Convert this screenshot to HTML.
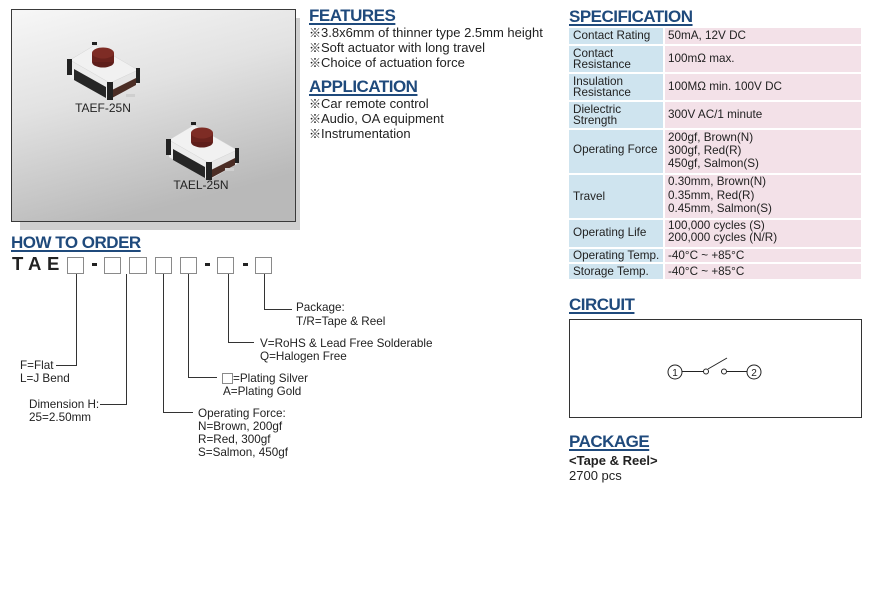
<!DOCTYPE html>
<html><head><meta charset="utf-8">
<style>
*{margin:0;padding:0;box-sizing:border-box}
body{width:870px;height:607px;background:#fff;position:relative;overflow:hidden;font-family:"Liberation Sans","Noto Sans CJK JP",Arial,sans-serif;color:#222}
.a{position:absolute;white-space:nowrap}
.h{position:absolute;white-space:nowrap;font-weight:bold;font-size:17px;letter-spacing:-0.5px;color:#1f4a7c;text-decoration:underline;text-decoration-thickness:1.5px;text-underline-offset:2px;line-height:20px}
.t{font-size:13px;line-height:15px}
.s{font-size:11.7px;line-height:12px}
.s2{font-size:11.7px;line-height:11px}
.o{font-size:11.7px;line-height:13px;color:#222}
.c{position:absolute;background:#cfe4ef}
.v{position:absolute;background:#f3e1e8}
.k{font-family:"Noto Sans CJK JP",sans-serif;font-size:12px}
</style></head><body>

<svg class="a" style="left:0;top:0" width="870" height="607" viewBox="0 0 870 607">
<defs>
<linearGradient id="bg" x1="0" y1="0" x2="0.35" y2="1">
<stop offset="0" stop-color="#f7f7f7"/>
<stop offset="0.45" stop-color="#e2e2e2"/>
<stop offset="1" stop-color="#b9b9b9"/>
</linearGradient>
</defs>
<rect x="20" y="18" width="280" height="212" fill="#cfcfcf"/>
<rect x="11.5" y="9.5" width="284" height="212" fill="url(#bg)" stroke="#3a3a3a" stroke-width="1"/>

<g id="sw1">
<polygon points="70,60 110,83 110,100 70,77" fill="#ececec"/>
<polygon points="74,69 106,87 106,98 74,80" fill="#262626"/>
<polygon points="110,83 138,70 138,84 110,100" fill="#e6e6e6"/>
<polygon points="112,90 136,78 136,85 112,98" fill="#4b2d25"/>
<polygon points="70,60 95,45 138,70 110,83" fill="#f1f1f1" stroke="#d4d4d4" stroke-width="0.5"/>
<rect x="92" y="42" width="5" height="3" fill="#222"/>
<rect x="67" y="59" width="5" height="16" fill="#222"/>
<rect x="136" y="68" width="4" height="15" fill="#222"/>
<rect x="107" y="82" width="6" height="18" fill="#222"/>
<rect x="126" y="94" width="9" height="3" fill="#cfcfcf"/>
<ellipse cx="103" cy="62" rx="11" ry="5.5" fill="#5e1e1a"/>
<rect x="92" y="53" width="22" height="9" fill="#6a221d"/>
<ellipse cx="103" cy="53" rx="11" ry="5.5" fill="#7e2c25"/>
</g>
<g transform="translate(99,80)">
<polygon points="70,60 110,83 110,100 70,77" fill="#ececec"/>
<polygon points="74,69 106,87 106,98 74,80" fill="#262626"/>
<polygon points="110,83 138,70 138,84 110,100" fill="#e6e6e6"/>
<polygon points="112,90 136,78 136,85 112,98" fill="#4b2d25"/>
<polygon points="70,60 95,45 138,70 110,83" fill="#f1f1f1" stroke="#d4d4d4" stroke-width="0.5"/>
<rect x="92" y="42" width="5" height="3" fill="#222"/>
<rect x="67" y="59" width="5" height="16" fill="#222"/>
<rect x="136" y="68" width="4" height="15" fill="#222"/>
<rect x="107" y="82" width="6" height="18" fill="#222"/>
<rect x="126" y="88" width="9" height="3" fill="#cfcfcf"/>
<ellipse cx="103" cy="62" rx="11" ry="5.5" fill="#5e1e1a"/>
<rect x="92" y="53" width="22" height="9" fill="#6a221d"/>
<ellipse cx="103" cy="53" rx="11" ry="5.5" fill="#7e2c25"/>
</g>
<text x="103" y="112" font-size="12" text-anchor="middle" fill="#222" font-family="Liberation Sans, sans-serif">TAEF-25N</text>
<text x="201" y="189" font-size="12" text-anchor="middle" fill="#222" font-family="Liberation Sans, sans-serif">TAEL-25N</text>

<!-- order boxes -->
<g fill="#fff" stroke="#8a8a8a" stroke-width="1">
<rect x="67.5" y="257.5" width="16" height="16"/>
<rect x="104.5" y="257.5" width="16" height="16"/>
<rect x="129.5" y="257.5" width="17" height="16"/>
<rect x="155.5" y="257.5" width="16" height="16"/>
<rect x="180.5" y="257.5" width="16" height="16"/>
<rect x="217.5" y="257.5" width="16" height="16"/>
<rect x="255.5" y="257.5" width="16" height="16"/>
<rect x="222.5" y="373.5" width="10" height="10"/>
</g>
<g fill="#222">
<rect x="92" y="263" width="5" height="3"/>
<rect x="205" y="263" width="5" height="3"/>
<rect x="243" y="263" width="5" height="3"/>
</g>
<g fill="none" stroke="#333" stroke-width="1">
<polyline points="76.5,274 76.5,365.5 56,365.5"/>
<polyline points="126.5,274 126.5,404.5 100,404.5"/>
<polyline points="163.5,274 163.5,412.5 193,412.5"/>
<polyline points="188.5,274 188.5,377.5 217,377.5"/>
<polyline points="228.5,274 228.5,342.5 254,342.5"/>
<polyline points="264.5,274 264.5,309.5 292,309.5"/>
</g>

<!-- circuit -->
<rect x="569.5" y="319.5" width="292" height="98" fill="#fff" stroke="#333" stroke-width="1"/>
<g fill="none" stroke="#222" stroke-width="1">
<circle cx="675" cy="372" r="7"/>
<circle cx="754" cy="372" r="7"/>
<line x1="682" y1="371.5" x2="703.5" y2="371.5"/>
<circle cx="706" cy="371.5" r="2.5"/>
<circle cx="724" cy="371.5" r="2.5"/>
<line x1="727" y1="371.5" x2="747" y2="371.5"/>
<line x1="708" y1="369" x2="727" y2="358"/>
</g>
<text x="675" y="376" font-size="10" text-anchor="middle" fill="#222" font-family="Liberation Sans, sans-serif">1</text>
<text x="754" y="376" font-size="10" text-anchor="middle" fill="#222" font-family="Liberation Sans, sans-serif">2</text>
</svg>

<!-- FEATURES -->
<div class="h" style="left:309px;top:6px">FEATURES</div>
<div class="a t" style="left:309px;top:25px"><span class="k">※</span>3.8x6mm of thinner type 2.5mm height<br><span class="k">※</span>Soft actuator with long travel<br><span class="k">※</span>Choice of actuation force</div>
<div class="h" style="left:309px;top:77px">APPLICATION</div>
<div class="a t" style="left:309px;top:96px"><span class="k">※</span>Car remote control<br><span class="k">※</span>Audio, OA equipment<br><span class="k">※</span>Instrumentation</div>

<!-- SPECIFICATION -->
<div class="h" style="left:569px;top:7px">SPECIFICATION</div>
<div class="c" style="left:569px;top:28px;width:94px;height:16px"></div><div class="v" style="left:665px;top:28px;width:196px;height:16px"></div>
<div class="c" style="left:569px;top:46px;width:94px;height:26px"></div><div class="v" style="left:665px;top:46px;width:196px;height:26px"></div>
<div class="c" style="left:569px;top:74px;width:94px;height:26px"></div><div class="v" style="left:665px;top:74px;width:196px;height:26px"></div>
<div class="c" style="left:569px;top:102px;width:94px;height:26px"></div><div class="v" style="left:665px;top:102px;width:196px;height:26px"></div>
<div class="c" style="left:569px;top:130px;width:94px;height:43px"></div><div class="v" style="left:665px;top:130px;width:196px;height:43px"></div>
<div class="c" style="left:569px;top:175px;width:94px;height:43px"></div><div class="v" style="left:665px;top:175px;width:196px;height:43px"></div>
<div class="c" style="left:569px;top:220px;width:94px;height:27px"></div><div class="v" style="left:665px;top:220px;width:196px;height:27px"></div>
<div class="c" style="left:569px;top:249px;width:94px;height:13px"></div><div class="v" style="left:665px;top:249px;width:196px;height:13px"></div>
<div class="c" style="left:569px;top:264px;width:94px;height:15px"></div><div class="v" style="left:665px;top:264px;width:196px;height:15px"></div>

<div class="a s" style="left:573px;top:30px">Contact Rating</div>
<div class="a s" style="left:668px;top:30px">50mA, 12V DC</div>
<div class="a s2" style="left:573px;top:47.5px">Contact<br>Resistance</div>
<div class="a s" style="left:668px;top:53px">100mΩ max.</div>
<div class="a s2" style="left:573px;top:75.5px">Insulation<br>Resistance</div>
<div class="a s" style="left:668px;top:81px">100MΩ min. 100V DC</div>
<div class="a s2" style="left:573px;top:103.5px">Dielectric<br>Strength</div>
<div class="a s" style="left:668px;top:109px">300V AC/1 minute</div>
<div class="a s" style="left:573px;top:144px">Operating Force</div>
<div class="a s" style="left:668px;top:130.5px;line-height:13px">200gf, Brown(N)<br>300gf, Red(R)<br>450gf, Salmon(S)</div>
<div class="a s" style="left:573px;top:191px">Travel</div>
<div class="a s" style="left:668px;top:175px;line-height:13.5px">0.30mm, Brown(N)<br>0.35mm, Red(R)<br>0.45mm, Salmon(S)</div>
<div class="a s" style="left:573px;top:227px">Operating Life</div>
<div class="a s" style="left:668px;top:220px">100,000 cycles (S)<br>200,000 cycles (N/R)</div>
<div class="a s" style="left:573px;top:250px">Operating Temp.</div>
<div class="a s" style="left:668px;top:250px">-40°C ~ +85°C</div>
<div class="a s" style="left:573px;top:266px">Storage Temp.</div>
<div class="a s" style="left:668px;top:266px">-40°C ~ +85°C</div>

<!-- HOW TO ORDER -->
<div class="h" style="left:11px;top:233px">HOW TO ORDER</div>
<div class="a" style="left:12px;top:253px;font-size:18.5px;font-weight:bold;line-height:22px;color:#222">T</div>
<div class="a" style="left:28px;top:253px;font-size:18.5px;font-weight:bold;line-height:22px;color:#222">A</div>
<div class="a" style="left:47px;top:253px;font-size:18.5px;font-weight:bold;line-height:22px;color:#222">E</div>

<div class="a o" style="left:296px;top:301px;line-height:13.5px">Package:<br>T/R=Tape &amp; Reel</div>
<div class="a o" style="left:260px;top:336.5px">V=RoHS &amp; Lead Free Solderable<br>Q=Halogen Free</div>
<div class="a o" style="left:233px;top:371.5px">=Plating Silver</div>
<div class="a o" style="left:223px;top:384.5px">A=Plating Gold</div>
<div class="a o" style="left:198px;top:406.5px">Operating Force:<br>N=Brown, 200gf<br>R=Red, 300gf<br>S=Salmon, 450gf</div>
<div class="a o" style="left:29px;top:397.5px">Dimension H:<br>25=2.50mm</div>
<div class="a o" style="left:20px;top:358.5px">F=Flat<br>L=J Bend</div>

<!-- CIRCUIT / PACKAGE -->
<div class="h" style="left:569px;top:295px">CIRCUIT</div>
<div class="h" style="left:569px;top:432px">PACKAGE</div>
<div class="a" style="left:569px;top:453px;font-size:13px;line-height:16px;font-weight:bold;color:#222">&lt;Tape &amp; Reel&gt;</div>
<div class="a" style="left:569px;top:468px;font-size:13px;line-height:16px;color:#222">2700 pcs</div>
</body></html>
